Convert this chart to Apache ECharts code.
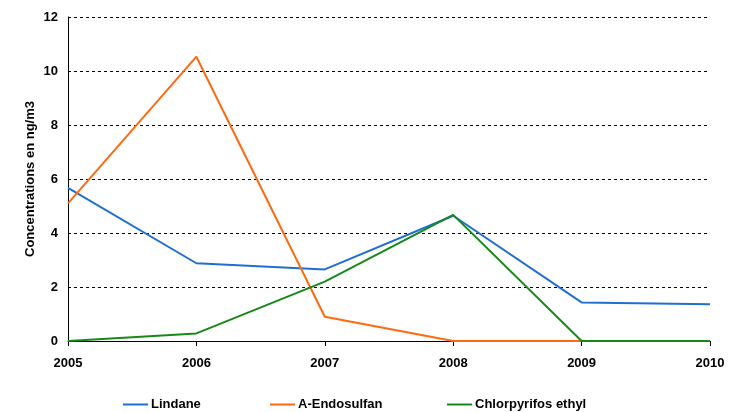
<!DOCTYPE html>
<html>
<head>
<meta charset="utf-8">
<script src="https://cdn.jsdelivr.net/npm/echarts@6/dist/echarts.min.js"></script>
<style>
  html, body { margin: 0; padding: 0; background: #fff; }
  #chart { width: 734px; height: 412px; }
</style>
</head>
<body>
<div id="chart"></div>
<script>
// années (axe des catégories)
const years = ['2005', '2006', '2007', '2008', '2009', '2010'];
// concentrations
const lindane = [5.67, 2.88, 2.65, 4.64, 1.43, 1.36];
const endosulfan = [5.1, 10.53, 0.9, 0, 0, null];
const chlorpyrifos = [0, 0.28, 2.2, 4.67, 0, 0];
const yTicks = [0, 2, 4, 6, 8, 10, 12];

const font = 'Liberation Sans, Arial, sans-serif';
const colors = ['#1f6fd2', '#ff6a10', '#16891a'];

const chart = echarts.init(document.getElementById('chart'));

function legendFor(name, left) {
    return {
        data: [name],
        left: left,
        top: 393,
        icon: 'rect',
        itemWidth: 25,
        itemHeight: 2,
        itemGap: 0,
        textStyle: { fontFamily: font, fontSize: 13, fontWeight: 'bold', color: '#000', padding: [0, 0, 0, -2] }
    };
}

const option = {
    animation: false,
    color: colors,
    grid: { left: 68, right: 24, top: 17, bottom: 71 },
    legend: [
        legendFor('Lindane', 118),
        legendFor('A-Endosulfan', 265),
        legendFor('Chlorpyrifos ethyl', 442)
    ],
    xAxis: {
        type: 'category',
        data: years,
        boundaryGap: false,
        axisLine: { lineStyle: { color: '#000', width: 1 } },
        axisTick: { show: true, length: 5, lineStyle: { color: '#000' } },
        axisLabel: { fontFamily: font, fontSize: 13, fontWeight: 'bold', color: '#000', margin: 16 }
    },
    yAxis: {
        type: 'value',
        min: yTicks[0],
        max: yTicks[yTicks.length - 1],
        interval: 2,
        name: 'Concentrations en ng/m3',
        nameLocation: 'middle',
        nameGap: 31,
        nameMoveOverlap: false,
        nameTextStyle: { fontFamily: font, fontSize: 13, fontWeight: 'bold', color: '#000' },
        axisLine: { show: true, lineStyle: { color: '#000', width: 1 } },
        axisTick: { show: false },
        axisLabel: { fontFamily: font, fontSize: 13, fontWeight: 'bold', color: '#000', margin: 10 },
        splitLine: { lineStyle: { color: '#000', type: [3, 3], width: 1 } }
    },
    series: [
        { name: 'Lindane', type: 'line', data: lindane, symbol: 'none', lineStyle: { width: 2 } },
        { name: 'A-Endosulfan', type: 'line', data: endosulfan, symbol: 'none', lineStyle: { width: 2 } },
        { name: 'Chlorpyrifos ethyl', type: 'line', data: chlorpyrifos, symbol: 'none', lineStyle: { width: 2 } }
    ]
};

chart.setOption(option);
</script>
</body>
</html>
